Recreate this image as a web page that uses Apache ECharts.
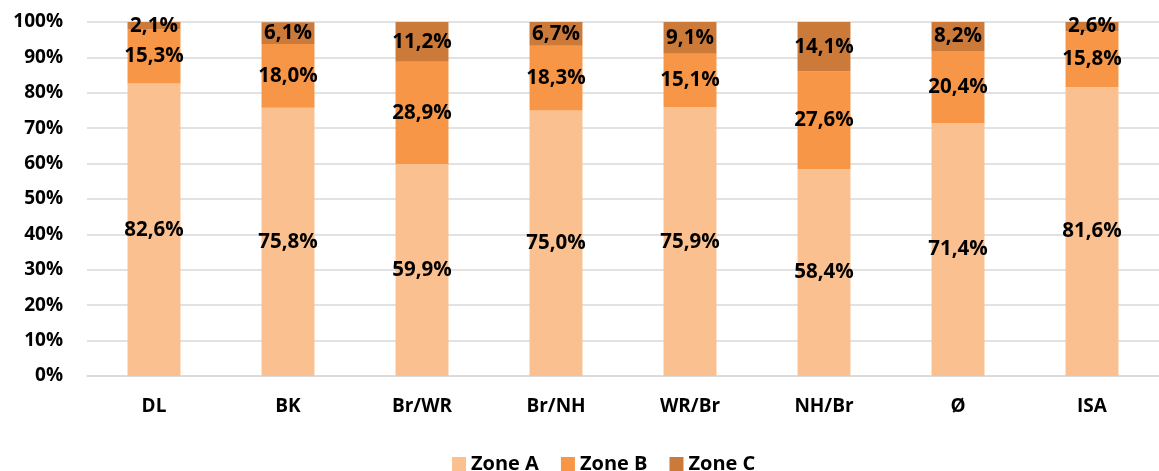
<!DOCTYPE html>
<html><head><meta charset="utf-8">
<script src="https://cdn.jsdelivr.net/npm/echarts@6/dist/echarts.min.js"></script>
<style>html,body{margin:0;padding:0;background:#fff}#c{width:1159px;height:471px}</style>
</head><body><div id="c"></div>
<script>
const categories = ['DL','BK','Br/WR','Br/NH','WR/Br','NH/Br','Ø','ISA'];
const zoneA = [82.6,75.8,59.9,75.0,75.9,58.4,71.4,81.6];
const zoneB = [15.3,18.0,28.9,18.3,15.1,27.6,20.4,15.8];
const zoneC = [2.1,6.1,11.2,6.7,9.1,14.1,8.2,2.6];
const yTicks = [0,10,20,30,40,50,60,70,80,90,100];

const FONT = 'Open Sans';
const W = 'bold';
const fmt = p => p.value.toFixed(1).replace('.', ',') + '%';
const mk = (name, data, color) => ({
  name, type:'bar', stack:'s', data, barWidth:'39.5%',
  itemStyle:{color},
  label:{show:true, position:'inside', formatter:fmt, color:'#000', fontFamily:FONT, fontWeight:W, fontSize:20.5},
  emphasis:{disabled:true}
});
const chart = echarts.init(document.getElementById('c'));
chart.setOption({
  animation:false,
  grid:{left:87, right:-11, top:22, bottom:95},
  legend:{top:449, left:447, itemWidth:14, itemHeight:14, itemGap:22, itemStyle:{borderWidth:0}, icon:'rect',
    textStyle:{fontFamily:FONT, fontWeight:W, fontSize:20, color:'#000'}},
  xAxis:{type:'category', data:categories,
    axisLine:{show:true, lineStyle:{color:'#d9d9d9', width:1.5}}, axisTick:{show:false},
    axisLabel:{color:'#000', fontFamily:FONT, fontWeight:W, fontSize:19, margin:21}},
  yAxis:{type:'value', min:yTicks[0], max:yTicks[yTicks.length-1], interval:10,
    axisLine:{show:false}, axisTick:{show:false},
    splitLine:{lineStyle:{color:'#d9d9d9', width:1.5}},
    axisLabel:{formatter:'{value}%', color:'#000', fontFamily:FONT, fontWeight:W, fontSize:19, margin:24}},
  series:[mk('Zone A', zoneA, '#FAC090'), mk('Zone B', zoneB, '#F79646'), mk('Zone C', zoneC, '#CB7A3A')]
});
</script></body></html>
